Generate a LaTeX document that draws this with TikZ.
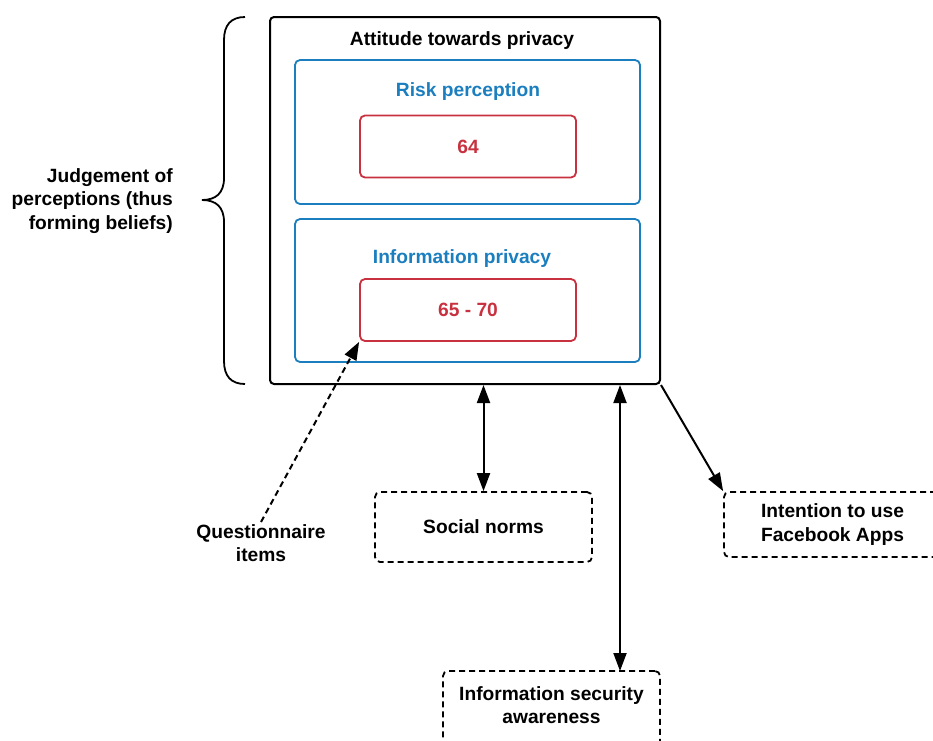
\documentclass[tikz,border=0pt]{standalone}
\usepackage{fontspec}
\setmainfont{Liberation Sans}
\usetikzlibrary{arrows.meta}
\definecolor{groupblue}{HTML}{1B7EBE}
\definecolor{itemred}{HTML}{C8313F}
\begin{document}
\begin{tikzpicture}[x=1pt,y=-1pt,
  font=\bfseries\fontsize{19.2}{23.5}\selectfont,
  outerbox/.style={draw, line width=2pt, rounded corners=4pt, minimum width=390pt, minimum height=367pt, inner sep=0pt},
  groupbox/.style={draw=groupblue, line width=1.8pt, rounded corners=5pt, minimum width=345pt, minimum height=144pt, inner sep=0pt},
  grouplabel/.style={text=groupblue, inner sep=1pt},
  itembox/.style={draw=itemred, text=itemred, line width=1.8pt, rounded corners=5pt, minimum width=216pt, minimum height=62pt, inner sep=0pt},
  factor/.style={draw, line width=1.8pt, dash pattern=on 6pt off 4pt, rounded corners=5pt, minimum width=217pt, minimum height=70pt, align=center, inner sep=0pt},
  plain/.style={align=center, inner sep=2pt},
  link/.style={line width=2pt},
  tip/.tip={Triangle[length=18pt,width=13pt]}
]
\useasboundingbox (0,0) rectangle (933,740);
\clip (0,0) rectangle (933,740);

% attitude block with its two groups
\node[outerbox] (outer) at (465,200.5) {};
\node[plain] (title) at (462,41) {Attitude towards privacy};
\node[groupbox] (risk) at (467.5,132) {};
\node[grouplabel] (risklabel) at (468,92) {Risk perception};
\node[itembox] (item64) at (468,146.5) {64};
\node[groupbox, minimum height=143pt] (info) at (467.5,290.5) {};
\node[grouplabel] (infolabel) at (462,259) {Information privacy};
\node[itembox] (item65) at (468,310) {65 - 70};

% brace and its caption
\draw[line width=1.8pt] (245,17) .. controls (231,17) and (224,25) .. (224,40)
  -- (224,178) .. controls (224,193) and (216,200) .. (202,200)
  .. controls (216,200) and (224,207) .. (224,222)
  -- (224,361) .. controls (224,376) and (231,384) .. (245,384);
\node[plain, align=right, anchor=east] (judgement) at (175,201)
  {Judgement of\\perceptions (thus\\forming beliefs)};

% related factors
\node[factor] (social) at (483.5,527) {Social norms};
\node[factor, minimum height=65pt] (intention) at (832.5,524.5) {Intention to use\\Facebook Apps};
\node[factor, minimum height=76pt] (infosec) at (551.5,709) {};
\node[plain] (infosectext) at (551.5,705) {Information security\\awareness};
\node[plain] (quest) at (261,543) {Questionnaire\\items};

% connectors
\coordinate (isatop) at (620,671);
\draw[link, {tip}-{tip}] (outer.south -| social.north) -- (social.north);
\draw[link, {tip}-{tip}] (outer.south -| isatop) -- (isatop);
\draw[link, -{tip}] (outer.south east) -- (intention.north west);
\draw[link, dash pattern=on 6pt off 4pt, -{tip[sep=0pt]}] (quest.north) -- (item65.south west);
\end{tikzpicture}
\end{document}
